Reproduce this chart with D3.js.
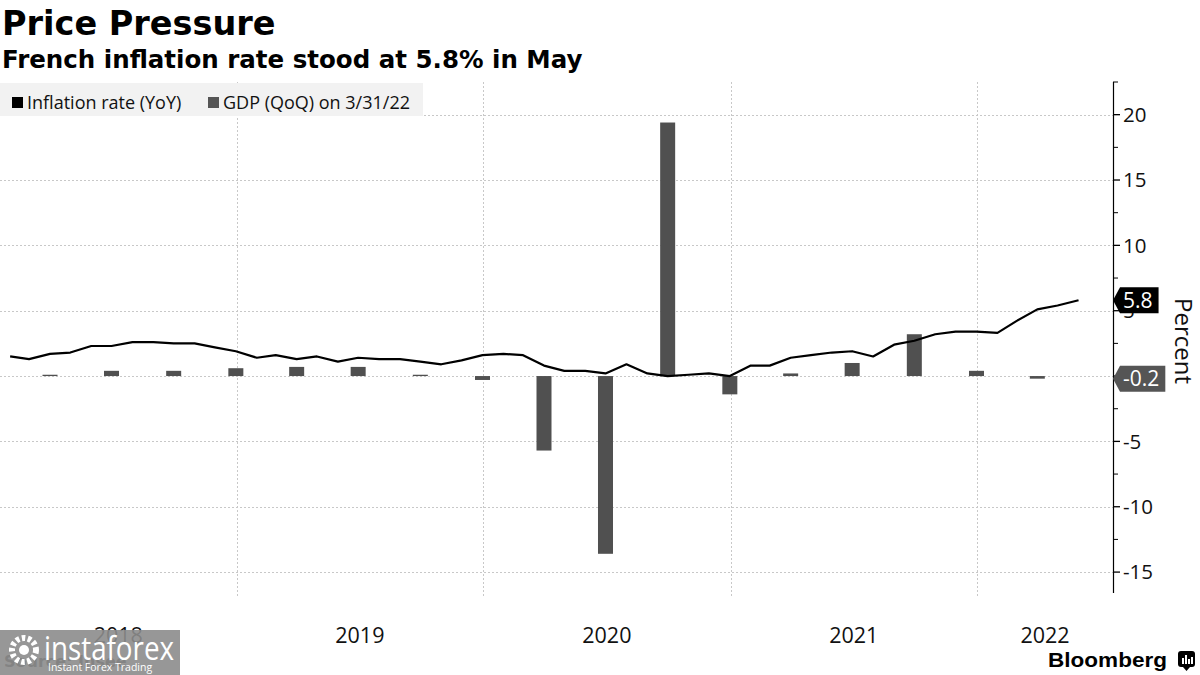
<!DOCTYPE html>
<html><head><meta charset="utf-8">
<script src="https://cdn.jsdelivr.net/npm/d3@7"></script>
<style>body{margin:0;background:#fff} svg{display:block}</style>
</head><body><svg id="c" width="1200" height="675"></svg>
<script>
// ---------- DATA ----------
const months = ["2018-01","2018-02","2018-03","2018-04","2018-05","2018-06","2018-07","2018-08","2018-09","2018-10","2018-11","2018-12",
"2019-01","2019-02","2019-03","2019-04","2019-05","2019-06","2019-07","2019-08","2019-09","2019-10","2019-11","2019-12",
"2020-01","2020-02","2020-03","2020-04","2020-05","2020-06","2020-07","2020-08","2020-09","2020-10","2020-11","2020-12",
"2021-01","2021-02","2021-03","2021-04","2021-05","2021-06","2021-07","2021-08","2021-09","2021-10","2021-11","2021-12",
"2022-01","2022-02","2022-03","2022-04","2022-05"];
const inflation = [1.5,1.3,1.7,1.8,2.3,2.3,2.6,2.6,2.5,2.5,2.2,1.9,
1.4,1.6,1.3,1.5,1.1,1.4,1.3,1.3,1.1,0.9,1.2,1.6,
1.7,1.6,0.8,0.4,0.4,0.2,0.9,0.2,0.0,0.1,0.2,0.0,
0.8,0.8,1.4,1.6,1.8,1.9,1.5,2.4,2.7,3.2,3.4,3.4,
3.3,4.2,5.1,5.4,5.8];
const quarters = ["2018-03","2018-06","2018-09","2018-12","2019-03","2019-06","2019-09","2019-12",
"2020-03","2020-06","2020-09","2020-12","2021-03","2021-06","2021-09","2021-12","2022-03"];
const gdp = [0.1,0.4,0.4,0.6,0.7,0.7,0.1,-0.3,-5.7,-13.6,19.4,-1.4,0.2,1.0,3.2,0.4,-0.2];
const yTicks = [-15,-10,-5,0,5,10,15,20];
const yTickLabels = ["-15","-10","-5","","5","10","15","20"]; // "0" is hidden behind the -0.2 flag
const yMinorTicks = [-12.5,-7.5,-2.5,2.5,7.5,12.5,17.5,22.5];
const years = [2018,2019,2020,2021,2022];
const legendItems = [{label:"Inflation rate (YoY)", color:"#000"},{label:"GDP (QoQ) on 3/31/22", color:"#555"}];

// ---------- SETUP ----------
const svg = d3.select("#c");
const monthEnd = s => { const [yy,m] = s.split("-").map(Number); return new Date(yy, m, 0); };
const plotR = 1113, plotT = 82, plotB = 593;
const x = d3.scaleTime().domain([new Date(2018,0,16), new Date(2022,6,21)]).range([0, plotR]);
const y = d3.scaleLinear().domain([-16.6, 22.5]).range([plotB, plotT]);
const grid = "#c8c8c8";
const axisFont = "'Open Sans', 'Noto Sans', sans-serif";

// horizontal grid
svg.append("g").selectAll("line").data(yTicks).join("line")
  .attr("x1",0).attr("x2",plotR).attr("y1",d=>Math.round(y(d))+0.5).attr("y2",d=>Math.round(y(d))+0.5)
  .attr("stroke",grid).attr("stroke-dasharray","2,2");
// vertical grid (year boundaries)
const yearBounds = years.slice(1).map(yr=>new Date(yr,0,1));
svg.append("g").selectAll("line").data(yearBounds).join("line")
  .attr("x1",d=>Math.round(x(d))+0.5).attr("x2",d=>Math.round(x(d))+0.5).attr("y1",plotT).attr("y2",plotB+4)
  .attr("stroke",grid).attr("stroke-dasharray","2,2");

// legend
const lg = svg.append("g");
lg.append("rect").attr("x",0).attr("y",83).attr("width",423).attr("height",33).attr("fill","#f2f2f2");
const legX = [12, 208];
legendItems.forEach((it,i)=>{
  lg.append("rect").attr("x",legX[i]).attr("y",97).attr("width",11).attr("height",11).attr("fill",it.color);
  lg.append("text").attr("x",legX[i]+15).attr("y",109).attr("font-family",axisFont).attr("font-size",18)
    .attr("fill","#111").text(it.label);
});

// bars
svg.append("g").selectAll("rect").data(quarters.map((q,i)=>({d:monthEnd(q), v:gdp[i]}))).join("rect")
  .attr("x",d=>x(d.d)-7.5).attr("width",15)
  .attr("y",d=>y(Math.max(0,d.v))).attr("height",d=>Math.abs(y(d.v)-y(0)))
  .attr("fill","#505050");

// line
const line = d3.line().x(d=>x(d.d)).y(d=>y(d.v));
svg.append("path").datum(months.map((m,i)=>({d:monthEnd(m), v:inflation[i]})))
  .attr("d",line).attr("fill","none").attr("stroke","#000").attr("stroke-width",2.2).attr("stroke-linejoin","round");

// right axis
const ax = svg.append("g");
ax.append("line").attr("x1",plotR+0.5).attr("x2",plotR+0.5).attr("y1",plotT).attr("y2",plotB).attr("stroke","#000").attr("stroke-width",1.2);
ax.selectAll("line.maj").data(yTicks).join("line").attr("class","maj")
  .attr("x1",plotR).attr("x2",plotR+7).attr("y1",d=>y(d)).attr("y2",d=>y(d)).attr("stroke","#000").attr("stroke-width",1.3);
ax.selectAll("line.min").data(yMinorTicks).join("line").attr("class","min")
  .attr("x1",plotR).attr("x2",plotR+5).attr("y1",d=>y(d)).attr("y2",d=>y(d)).attr("stroke","#000");
ax.selectAll("text").data(yTicks).join("text")
  .attr("x",plotR+10).attr("y",d=>y(d)).attr("dy","0.36em")
  .attr("font-family",axisFont).attr("font-size",20.5).attr("fill","#111")
  .text((d,i)=>yTickLabels[i]);

// value labels
function valueLabel(v, color){
  const cy = y(v);
  const g = svg.append("g");
  const path = g.append("path").attr("fill",color);
  const t = g.append("text").attr("x",plotR+10).attr("y",cy).attr("dy","0.36em")
    .attr("font-family",axisFont).attr("font-size",21).attr("fill","#fff").text(v<0?"-"+Math.abs(v):v.toFixed(1));
  const w = t.node().getComputedTextLength();
  const r = plotR+10+w+6;
  path.attr("d",`M${plotR},${cy} L${plotR+7},${cy-13} L${r},${cy-13} L${r},${cy+13} L${plotR+7},${cy+13} Z`);
}
valueLabel(inflation[inflation.length-1], "#000");
valueLabel(gdp[gdp.length-1], "#555");

// axis title
svg.append("text").attr("transform","translate(1175,341) rotate(90)").attr("text-anchor","middle")
  .attr("font-family",axisFont).attr("font-size",24).attr("fill","#111").text("Percent");

// year labels
svg.append("g").selectAll("text").data(years).join("text")
  .attr("x",yr=>{ const a=Math.max(0,x(new Date(yr,0,1))), b=Math.min(plotR,x(new Date(yr+1,0,1))); return (a+b)/2; })
  .attr("y",643).attr("text-anchor","middle")
  .attr("font-family",axisFont).attr("font-size",21.5).attr("fill","#111").text(d=>d);

// titles
svg.append("text").attr("x",2).attr("y",35).attr("font-family","'DejaVu Sans', sans-serif").attr("font-weight","bold")
  .attr("font-size",33.5).attr("fill","#000").text("Price Pressure");
svg.append("text").attr("x",2).attr("y",68).attr("font-family","'DejaVu Sans', sans-serif").attr("font-weight","bold")
  .attr("font-size",24.5).attr("fill","#000").text("French inflation rate stood at 5.8% in May");

// source
svg.append("text").attr("x",4).attr("y",667).attr("font-family","'DejaVu Sans', sans-serif").attr("font-weight","bold")
  .attr("font-size",16).attr("fill","#333").text("Source: Insee");

// watermark overlay
const wm = svg.append("g");
wm.append("rect").attr("x",0).attr("y",630).attr("width",180).attr("height",45).attr("fill","#8c8c8c").attr("opacity",0.9);
wm.append("circle").attr("cx",24).attr("cy",650).attr("r",12).attr("fill","none").attr("stroke","#fff").attr("stroke-width",6).attr("stroke-dasharray","3.5,2.5");
wm.append("circle").attr("cx",24).attr("cy",650).attr("r",5).attr("fill","#fff");
wm.append("text").attr("x",44).attr("y",660).attr("font-family","'Open Sans', sans-serif").attr("font-size",33)
  .attr("fill","#fff").attr("textLength",130).attr("lengthAdjust","spacingAndGlyphs").text("instaforex");
wm.append("text").attr("x",48).attr("y",671).attr("font-family","'Open Sans', sans-serif").attr("font-size",10.5)
  .attr("fill","#fff").text("Instant Forex Trading");

// Bloomberg logo
svg.append("text").attr("x",1048).attr("y",667).attr("font-family","'Liberation Sans', Arial, sans-serif").attr("font-weight","bold")
  .attr("font-size",21).attr("fill","#000").attr("textLength",119).attr("lengthAdjust","spacingAndGlyphs").text("Bloomberg");
const icon = svg.append("g");
icon.append("rect").attr("x",1178).attr("y",651).attr("width",17).attr("height",16).attr("rx",3).attr("fill","#000");
icon.append("path").attr("d","M1183,667 L1186.5,671 L1190,667 Z").attr("fill","#000");
[[1182,658,2,6],[1185,655,2,9],[1188,659,2,5],[1191,657,2,7]].forEach(b=>icon.append("rect").attr("x",b[0]).attr("y",b[1]).attr("width",b[2]).attr("height",b[3]).attr("fill","#fff"));
</script></body></html>
